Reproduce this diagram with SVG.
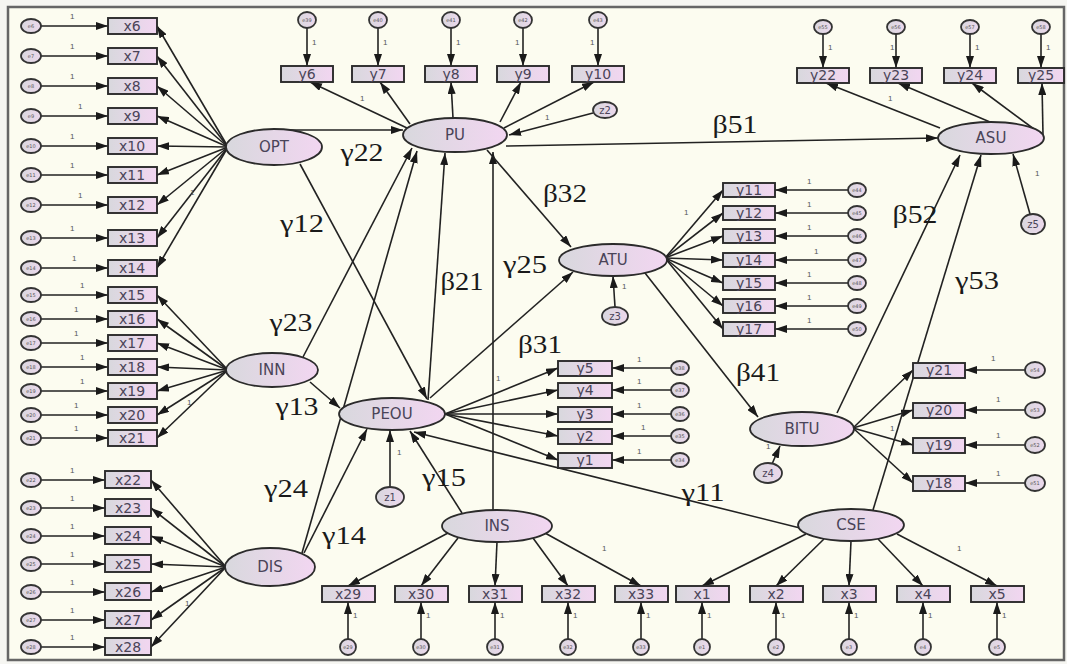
<svg xmlns="http://www.w3.org/2000/svg" width="1067" height="664" viewBox="0 0 1067 664">
<style>
  .lat ellipse { fill: url(#fillG); stroke: #2b2b2b; stroke-width: 1.8; }
  .obs rect { fill: url(#fillG); stroke: #2b2b2b; stroke-width: 1.9; }
  .err ellipse { fill: url(#fillC); stroke: #333; stroke-width: 1.8; }
  .lt { font-family: "DejaVu Sans", sans-serif; font-size: 15px; fill: #4a4458; text-anchor: middle; }
  .bt { font-family: "DejaVu Sans", sans-serif; font-size: 14px; fill: #4a4458; text-anchor: middle; }
  .et { font-family: "DejaVu Sans", sans-serif; font-size: 5px; fill: #555; text-anchor: middle; }
  .zt { font-family: "DejaVu Sans", sans-serif; font-size: 10px; fill: #4a4458; text-anchor: middle; }
  .one { font-family: "Liberation Sans", sans-serif; font-size: 8px; fill: #555; }
  .par { font-family: "Liberation Serif", serif; font-size: 26px; fill: #1a1a1a; text-anchor: middle; }
  #connectors line { stroke: #222; stroke-width: 1.6; marker-end: url(#ah); }
</style>
<defs>
  <linearGradient id="fillG" x1="0" y1="0" x2="1" y2="0">
    <stop offset="0" stop-color="#d8d8dd"/>
    <stop offset="1" stop-color="#f2d6f1"/>
  </linearGradient>
  <linearGradient id="fillC" x1="0" y1="0" x2="1" y2="0">
    <stop offset="0" stop-color="#d9d7de"/>
    <stop offset="1" stop-color="#ecd8ec"/>
  </linearGradient>
  <marker id="ah" viewBox="0 0 12 8" refX="12" refY="4" markerWidth="12" markerHeight="8" markerUnits="userSpaceOnUse" orient="auto">
    <path d="M0,0L12,4L0,8z" fill="#1a1a1a"/>
  </marker>
</defs>

<!-- page and frame -->
<rect x="0" y="0" width="1067" height="664" fill="#f6f6f2"/>
<rect x="8" y="7" width="1056" height="653" fill="#fcfcf0" stroke="#666" stroke-width="2.5"/>

<!-- connectors -->
<g id="connectors">
  <!-- left error terms -->
  <line x1="41" y1="26" x2="108" y2="26"/>
  <line x1="41" y1="56" x2="108" y2="56"/>
  <line x1="41" y1="86" x2="108" y2="86"/>
  <line x1="41" y1="116" x2="108" y2="116"/>
  <line x1="41" y1="146" x2="108" y2="146"/>
  <line x1="41" y1="175" x2="108" y2="175"/>
  <line x1="41" y1="205" x2="108" y2="205"/>
  <line x1="41" y1="238" x2="108" y2="238"/>
  <line x1="41" y1="268" x2="108" y2="268"/>
  <line x1="41" y1="295" x2="108" y2="295"/>
  <line x1="41" y1="319" x2="108" y2="319"/>
  <line x1="41" y1="343" x2="108" y2="343"/>
  <line x1="41" y1="367" x2="108" y2="367"/>
  <line x1="41" y1="391" x2="108" y2="391"/>
  <line x1="41" y1="415" x2="108" y2="415"/>
  <line x1="41" y1="438" x2="108" y2="438"/>
  <line x1="41" y1="480" x2="105" y2="480"/>
  <line x1="41" y1="508" x2="105" y2="508"/>
  <line x1="41" y1="536" x2="105" y2="536"/>
  <line x1="41" y1="564" x2="105" y2="564"/>
  <line x1="41" y1="592" x2="105" y2="592"/>
  <line x1="41" y1="620" x2="105" y2="620"/>
  <line x1="41" y1="647" x2="105" y2="647"/>
  <!-- OPT loadings -->
  <line x1="228" y1="147" x2="157" y2="26"/>
  <line x1="228" y1="147" x2="157" y2="56"/>
  <line x1="228" y1="147" x2="157" y2="86"/>
  <line x1="228" y1="147" x2="157" y2="116"/>
  <line x1="228" y1="147" x2="157" y2="146"/>
  <line x1="228" y1="147" x2="157" y2="175"/>
  <line x1="228" y1="147" x2="157" y2="205"/>
  <line x1="228" y1="147" x2="157" y2="238"/>
  <line x1="228" y1="147" x2="157" y2="268"/>
  <!-- INN loadings -->
  <line x1="228" y1="370" x2="157" y2="295"/>
  <line x1="228" y1="370" x2="157" y2="319"/>
  <line x1="228" y1="370" x2="157" y2="343"/>
  <line x1="228" y1="370" x2="157" y2="367"/>
  <line x1="228" y1="370" x2="157" y2="391"/>
  <line x1="228" y1="370" x2="157" y2="415"/>
  <line x1="228" y1="370" x2="157" y2="438"/>
  <!-- DIS loadings -->
  <line x1="226" y1="567" x2="151" y2="480"/>
  <line x1="226" y1="567" x2="151" y2="508"/>
  <line x1="226" y1="567" x2="151" y2="536"/>
  <line x1="226" y1="567" x2="151" y2="564"/>
  <line x1="226" y1="567" x2="151" y2="592"/>
  <line x1="226" y1="567" x2="151" y2="620"/>
  <line x1="226" y1="567" x2="151" y2="647"/>
  <!-- PU indicators and errors -->
  <line x1="307" y1="28" x2="307" y2="66"/>
  <line x1="378" y1="28" x2="378" y2="66"/>
  <line x1="451" y1="28" x2="451" y2="66"/>
  <line x1="523" y1="28" x2="523" y2="66"/>
  <line x1="598" y1="28" x2="598" y2="66"/>
  <line x1="407" y1="128" x2="310" y2="82"/>
  <line x1="410" y1="124" x2="380" y2="82"/>
  <line x1="453" y1="118" x2="451" y2="82"/>
  <line x1="500" y1="122" x2="521" y2="82"/>
  <line x1="504" y1="128" x2="594" y2="82"/>
  <line x1="593" y1="113" x2="509" y2="135"/>
  <!-- ASU indicators and errors -->
  <line x1="823" y1="34" x2="823" y2="68"/>
  <line x1="896" y1="34" x2="896" y2="68"/>
  <line x1="970" y1="34" x2="970" y2="68"/>
  <line x1="1041" y1="34" x2="1041" y2="68"/>
  <line x1="940" y1="128" x2="826" y2="83"/>
  <line x1="990" y1="122" x2="898" y2="83"/>
  <line x1="1038" y1="132" x2="972" y2="83"/>
  <line x1="1043" y1="135" x2="1042" y2="83"/>
  <line x1="1030" y1="214" x2="1013" y2="154"/>
  <!-- ATU indicators and errors -->
  <line x1="665" y1="258" x2="723" y2="190"/>
  <line x1="665" y1="258" x2="723" y2="213"/>
  <line x1="665" y1="258" x2="723" y2="236"/>
  <line x1="665" y1="258" x2="723" y2="260"/>
  <line x1="665" y1="258" x2="723" y2="283"/>
  <line x1="665" y1="258" x2="723" y2="306"/>
  <line x1="665" y1="258" x2="723" y2="329"/>
  <line x1="848" y1="190" x2="775" y2="190"/>
  <line x1="848" y1="213" x2="775" y2="213"/>
  <line x1="848" y1="236" x2="775" y2="236"/>
  <line x1="848" y1="260" x2="775" y2="260"/>
  <line x1="848" y1="283" x2="775" y2="283"/>
  <line x1="848" y1="306" x2="775" y2="306"/>
  <line x1="848" y1="329" x2="775" y2="329"/>
  <line x1="615" y1="307" x2="613" y2="276"/>
  <!-- PEOU indicators and errors -->
  <line x1="445" y1="414" x2="558" y2="368"/>
  <line x1="445" y1="414" x2="558" y2="390"/>
  <line x1="445" y1="414" x2="558" y2="414"/>
  <line x1="445" y1="414" x2="558" y2="436"/>
  <line x1="445" y1="414" x2="558" y2="460"/>
  <line x1="671" y1="368" x2="612" y2="368"/>
  <line x1="671" y1="390" x2="612" y2="390"/>
  <line x1="671" y1="414" x2="612" y2="414"/>
  <line x1="671" y1="436" x2="612" y2="436"/>
  <line x1="671" y1="460" x2="612" y2="460"/>
  <line x1="390" y1="487" x2="390" y2="430"/>
  <!-- BITU indicators and errors -->
  <line x1="853" y1="428" x2="913" y2="370"/>
  <line x1="853" y1="428" x2="913" y2="410"/>
  <line x1="853" y1="428" x2="913" y2="445"/>
  <line x1="853" y1="428" x2="913" y2="483"/>
  <line x1="1025" y1="370" x2="965" y2="370"/>
  <line x1="1025" y1="410" x2="965" y2="410"/>
  <line x1="1025" y1="445" x2="965" y2="445"/>
  <line x1="1025" y1="483" x2="965" y2="483"/>
  <line x1="772" y1="464" x2="780" y2="446"/>
  <!-- INS and CSE indicators -->
  <line x1="448" y1="533" x2="348" y2="586"/>
  <line x1="458" y1="538" x2="421" y2="586"/>
  <line x1="497" y1="542" x2="495" y2="586"/>
  <line x1="533" y1="538" x2="568" y2="586"/>
  <line x1="545" y1="533" x2="641" y2="586"/>
  <line x1="806" y1="534" x2="702" y2="586"/>
  <line x1="824" y1="539" x2="776" y2="586"/>
  <line x1="851" y1="541" x2="849" y2="586"/>
  <line x1="878" y1="539" x2="923" y2="586"/>
  <line x1="897" y1="534" x2="997" y2="586"/>
  <line x1="348" y1="639" x2="348" y2="602"/>
  <line x1="421" y1="639" x2="421" y2="602"/>
  <line x1="495" y1="639" x2="495" y2="602"/>
  <line x1="568" y1="639" x2="568" y2="602"/>
  <line x1="641" y1="639" x2="641" y2="602"/>
  <line x1="702" y1="639" x2="702" y2="602"/>
  <line x1="776" y1="639" x2="776" y2="602"/>
  <line x1="849" y1="639" x2="849" y2="602"/>
  <line x1="923" y1="639" x2="923" y2="602"/>
  <line x1="997" y1="639" x2="997" y2="602"/>
  <!-- structural paths -->
  <line x1="290" y1="130" x2="403" y2="130"/>
  <line x1="300" y1="164" x2="427" y2="399"/>
  <line x1="428" y1="400" x2="445" y2="153"/>
  <line x1="303" y1="357" x2="412" y2="148"/>
  <line x1="302" y1="553" x2="417" y2="151"/>
  <line x1="310" y1="382" x2="340" y2="408"/>
  <line x1="304" y1="553" x2="367" y2="429"/>
  <line x1="462" y1="513" x2="410" y2="431"/>
  <line x1="800" y1="528" x2="414" y2="432"/>
  <line x1="493" y1="510" x2="493" y2="152"/>
  <line x1="487" y1="150" x2="571" y2="247"/>
  <line x1="430" y1="398" x2="573" y2="272"/>
  <line x1="506" y1="146" x2="938" y2="138"/>
  <line x1="645" y1="273" x2="758" y2="417"/>
  <line x1="837" y1="413" x2="960" y2="155"/>
  <line x1="873" y1="510" x2="981" y2="155"/>
</g>

<!-- path labels -->
<g id="path-labels">
  <text class="par" x="362" y="161" textLength="43" lengthAdjust="spacingAndGlyphs">γ22</text>
  <text class="par" x="302" y="232" textLength="44" lengthAdjust="spacingAndGlyphs">γ12</text>
  <text class="par" x="291" y="331" textLength="43" lengthAdjust="spacingAndGlyphs">γ23</text>
  <text class="par" x="297" y="415" textLength="43" lengthAdjust="spacingAndGlyphs">γ13</text>
  <text class="par" x="286" y="497" textLength="44" lengthAdjust="spacingAndGlyphs">γ24</text>
  <text class="par" x="344" y="544" textLength="44" lengthAdjust="spacingAndGlyphs">γ14</text>
  <text class="par" x="444" y="486" textLength="44" lengthAdjust="spacingAndGlyphs">γ15</text>
  <text class="par" x="462" y="290" textLength="43" lengthAdjust="spacingAndGlyphs">β21</text>
  <text class="par" x="525" y="273" textLength="44" lengthAdjust="spacingAndGlyphs">γ25</text>
  <text class="par" x="565" y="202" textLength="44" lengthAdjust="spacingAndGlyphs">β32</text>
  <text class="par" x="540" y="353" textLength="44" lengthAdjust="spacingAndGlyphs">β31</text>
  <text class="par" x="735" y="133" textLength="45" lengthAdjust="spacingAndGlyphs">β51</text>
  <text class="par" x="758" y="381" textLength="44" lengthAdjust="spacingAndGlyphs">β41</text>
  <text class="par" x="915" y="223" textLength="45" lengthAdjust="spacingAndGlyphs">β52</text>
  <text class="par" x="977" y="289" textLength="44" lengthAdjust="spacingAndGlyphs">γ53</text>
  <text class="par" x="703" y="501" textLength="43" lengthAdjust="spacingAndGlyphs">γ11</text>
</g>

<!-- fixed-parameter labels -->
<g id="fixed-ones" class="one">
  <text x="70" y="19">1</text><text x="70" y="49">1</text><text x="70" y="79">1</text><text x="78" y="109">1</text>
  <text x="70" y="139">1</text><text x="70" y="168">1</text><text x="78" y="198">1</text><text x="70" y="231">1</text>
  <text x="72" y="261">1</text><text x="80" y="288">1</text><text x="74" y="312">1</text><text x="74" y="336">1</text>
  <text x="80" y="360">1</text><text x="80" y="384">1</text><text x="74" y="408">1</text><text x="74" y="431">1</text>
  <text x="70" y="473">1</text><text x="70" y="501">1</text><text x="70" y="529">1</text><text x="70" y="557">1</text>
  <text x="70" y="585">1</text><text x="70" y="613">1</text><text x="70" y="640">1</text>
  <text x="190" y="195">1</text><text x="187" y="405">1</text><text x="185" y="606">1</text>
  <text x="312" y="45">1</text><text x="383" y="45">1</text><text x="456" y="45">1</text><text x="515" y="45">1</text><text x="590" y="45">1</text>
  <text x="360" y="101">1</text><text x="545" y="120">1</text>
  <text x="828" y="50">1</text><text x="890" y="50">1</text><text x="975" y="50">1</text><text x="1046" y="50">1</text>
  <text x="888" y="101">1</text><text x="1035" y="176">1</text>
  <text x="684" y="215">1</text><text x="622" y="289">1</text>
  <text x="807" y="184">1</text><text x="807" y="207">1</text><text x="807" y="230">1</text><text x="814" y="254">1</text>
  <text x="807" y="277">1</text><text x="807" y="300">1</text><text x="807" y="323">1</text>
  <text x="637" y="362">1</text><text x="637" y="384">1</text><text x="637" y="408">1</text><text x="641" y="430">1</text><text x="637" y="454">1</text>
  <text x="496" y="381">1</text><text x="397" y="455">1</text>
  <text x="991" y="361">1</text><text x="996" y="402">1</text><text x="996" y="438">1</text><text x="996" y="476">1</text>
  <text x="890" y="431">1</text><text x="766" y="449">1</text>
  <text x="602" y="551">1</text><text x="957" y="551">1</text>
  <text x="353" y="618">1</text><text x="426" y="618">1</text><text x="500" y="618">1</text><text x="573" y="618">1</text><text x="646" y="618">1</text>
  <text x="707" y="618">1</text><text x="781" y="618">1</text><text x="854" y="618">1</text><text x="928" y="618">1</text><text x="1002" y="618">1</text>
</g>

<!-- latent constructs -->
<g id="OPT" class="lat"><ellipse cx="274" cy="147" rx="48" ry="18"/><text class="lt" x="274" y="152">OPT</text></g>
<g id="PU" class="lat"><ellipse cx="455" cy="135" rx="52" ry="17"/><text class="lt" x="455" y="140">PU</text></g>
<g id="INN" class="lat"><ellipse cx="272" cy="370" rx="46" ry="17"/><text class="lt" x="272" y="375">INN</text></g>
<g id="PEOU" class="lat"><ellipse cx="392" cy="414" rx="53" ry="16"/><text class="lt" x="392" y="419">PEOU</text></g>
<g id="DIS" class="lat"><ellipse cx="270" cy="567" rx="45" ry="19"/><text class="lt" x="270" y="572">DIS</text></g>
<g id="ATU" class="lat"><ellipse cx="613" cy="260" rx="54" ry="16"/><text class="lt" x="613" y="265">ATU</text></g>
<g id="ASU" class="lat"><ellipse cx="991" cy="138" rx="53" ry="16"/><text class="lt" x="991" y="143">ASU</text></g>
<g id="BITU" class="lat"><ellipse cx="802" cy="429" rx="52" ry="17"/><text class="lt" x="802" y="434">BITU</text></g>
<g id="INS" class="lat"><ellipse cx="497" cy="526" rx="55" ry="16"/><text class="lt" x="497" y="531">INS</text></g>
<g id="CSE" class="lat"><ellipse cx="851" cy="525" rx="53" ry="16"/><text class="lt" x="851" y="530">CSE</text></g>

<!-- disturbances -->
<g id="z1" class="err"><ellipse cx="390" cy="497" rx="14" ry="10"/><text class="zt" x="390" y="501">z1</text></g>
<g id="z2" class="err"><ellipse cx="605" cy="110" rx="12" ry="8"/><text class="zt" x="605" y="114">z2</text></g>
<g id="z3" class="err"><ellipse cx="615" cy="316" rx="13" ry="9"/><text class="zt" x="615" y="320">z3</text></g>
<g id="z4" class="err"><ellipse cx="768" cy="473" rx="14" ry="10"/><text class="zt" x="768" y="477">z4</text></g>
<g id="z5" class="err"><ellipse cx="1033" cy="224" rx="12" ry="10"/><text class="zt" x="1033" y="228">z5</text></g>

<!-- OPT / INN / DIS indicators -->
<g id="x6" class="obs"><rect x="108" y="18" width="49" height="16"/><text class="bt" x="132" y="31">x6</text></g>
<g id="x7" class="obs"><rect x="108" y="48" width="49" height="16"/><text class="bt" x="132" y="61">x7</text></g>
<g id="x8" class="obs"><rect x="108" y="78" width="49" height="16"/><text class="bt" x="132" y="91">x8</text></g>
<g id="x9" class="obs"><rect x="108" y="108" width="49" height="16"/><text class="bt" x="132" y="121">x9</text></g>
<g id="x10" class="obs"><rect x="108" y="138" width="49" height="16"/><text class="bt" x="132" y="151">x10</text></g>
<g id="x11" class="obs"><rect x="108" y="167" width="49" height="16"/><text class="bt" x="132" y="180">x11</text></g>
<g id="x12" class="obs"><rect x="108" y="197" width="49" height="16"/><text class="bt" x="132" y="210">x12</text></g>
<g id="x13" class="obs"><rect x="108" y="230" width="49" height="16"/><text class="bt" x="132" y="243">x13</text></g>
<g id="x14" class="obs"><rect x="108" y="260" width="49" height="16"/><text class="bt" x="132" y="273">x14</text></g>
<g id="x15" class="obs"><rect x="108" y="287" width="49" height="16"/><text class="bt" x="132" y="300">x15</text></g>
<g id="x16" class="obs"><rect x="108" y="311" width="49" height="16"/><text class="bt" x="132" y="324">x16</text></g>
<g id="x17" class="obs"><rect x="108" y="335" width="49" height="16"/><text class="bt" x="132" y="348">x17</text></g>
<g id="x18" class="obs"><rect x="108" y="359" width="49" height="16"/><text class="bt" x="132" y="372">x18</text></g>
<g id="x19" class="obs"><rect x="108" y="383" width="49" height="16"/><text class="bt" x="132" y="396">x19</text></g>
<g id="x20" class="obs"><rect x="108" y="407" width="49" height="16"/><text class="bt" x="132" y="420">x20</text></g>
<g id="x21" class="obs"><rect x="108" y="430" width="49" height="16"/><text class="bt" x="132" y="443">x21</text></g>
<g id="x22" class="obs"><rect x="105" y="471" width="46" height="17"/><text class="bt" x="128" y="485">x22</text></g>
<g id="x23" class="obs"><rect x="105" y="499" width="46" height="17"/><text class="bt" x="128" y="513">x23</text></g>
<g id="x24" class="obs"><rect x="105" y="527" width="46" height="17"/><text class="bt" x="128" y="541">x24</text></g>
<g id="x25" class="obs"><rect x="105" y="555" width="46" height="17"/><text class="bt" x="128" y="569">x25</text></g>
<g id="x26" class="obs"><rect x="105" y="583" width="46" height="17"/><text class="bt" x="128" y="597">x26</text></g>
<g id="x27" class="obs"><rect x="105" y="611" width="46" height="17"/><text class="bt" x="128" y="625">x27</text></g>
<g id="x28" class="obs"><rect x="105" y="638" width="46" height="17"/><text class="bt" x="128" y="652">x28</text></g>

<!-- left error terms -->
<g id="e6" class="err"><ellipse cx="31" cy="26" rx="10" ry="7"/><text class="et" x="31" y="28">e6</text></g>
<g id="e7" class="err"><ellipse cx="31" cy="56" rx="10" ry="7"/><text class="et" x="31" y="58">e7</text></g>
<g id="e8" class="err"><ellipse cx="31" cy="86" rx="10" ry="7"/><text class="et" x="31" y="88">e8</text></g>
<g id="e9" class="err"><ellipse cx="31" cy="116" rx="10" ry="7"/><text class="et" x="31" y="118">e9</text></g>
<g id="e10" class="err"><ellipse cx="31" cy="146" rx="10" ry="7"/><text class="et" x="31" y="148">e10</text></g>
<g id="e11" class="err"><ellipse cx="31" cy="175" rx="10" ry="7"/><text class="et" x="31" y="177">e11</text></g>
<g id="e12" class="err"><ellipse cx="31" cy="205" rx="10" ry="7"/><text class="et" x="31" y="207">e12</text></g>
<g id="e13" class="err"><ellipse cx="31" cy="238" rx="10" ry="7"/><text class="et" x="31" y="240">e13</text></g>
<g id="e14" class="err"><ellipse cx="31" cy="268" rx="10" ry="7"/><text class="et" x="31" y="270">e14</text></g>
<g id="e15" class="err"><ellipse cx="31" cy="295" rx="10" ry="7"/><text class="et" x="31" y="297">e15</text></g>
<g id="e16" class="err"><ellipse cx="31" cy="319" rx="10" ry="7"/><text class="et" x="31" y="321">e16</text></g>
<g id="e17" class="err"><ellipse cx="31" cy="343" rx="10" ry="7"/><text class="et" x="31" y="345">e17</text></g>
<g id="e18" class="err"><ellipse cx="31" cy="367" rx="10" ry="7"/><text class="et" x="31" y="369">e18</text></g>
<g id="e19" class="err"><ellipse cx="31" cy="391" rx="10" ry="7"/><text class="et" x="31" y="393">e19</text></g>
<g id="e20" class="err"><ellipse cx="31" cy="415" rx="10" ry="7"/><text class="et" x="31" y="417">e20</text></g>
<g id="e21" class="err"><ellipse cx="31" cy="438" rx="10" ry="7"/><text class="et" x="31" y="440">e21</text></g>
<g id="e22" class="err"><ellipse cx="31" cy="480" rx="10" ry="7"/><text class="et" x="31" y="482">e22</text></g>
<g id="e23" class="err"><ellipse cx="31" cy="508" rx="10" ry="7"/><text class="et" x="31" y="510">e23</text></g>
<g id="e24" class="err"><ellipse cx="31" cy="536" rx="10" ry="7"/><text class="et" x="31" y="538">e24</text></g>
<g id="e25" class="err"><ellipse cx="31" cy="564" rx="10" ry="7"/><text class="et" x="31" y="566">e25</text></g>
<g id="e26" class="err"><ellipse cx="31" cy="592" rx="10" ry="7"/><text class="et" x="31" y="594">e26</text></g>
<g id="e27" class="err"><ellipse cx="31" cy="620" rx="10" ry="7"/><text class="et" x="31" y="622">e27</text></g>
<g id="e28" class="err"><ellipse cx="31" cy="647" rx="10" ry="7"/><text class="et" x="31" y="649">e28</text></g>

<!-- PU indicators -->
<g id="y6" class="obs"><rect x="281" y="66" width="52" height="16"/><text class="bt" x="307" y="79">y6</text></g>
<g id="y7" class="obs"><rect x="352" y="66" width="52" height="16"/><text class="bt" x="378" y="79">y7</text></g>
<g id="y8" class="obs"><rect x="425" y="66" width="52" height="16"/><text class="bt" x="451" y="79">y8</text></g>
<g id="y9" class="obs"><rect x="497" y="66" width="52" height="16"/><text class="bt" x="523" y="79">y9</text></g>
<g id="y10" class="obs"><rect x="572" y="66" width="52" height="16"/><text class="bt" x="598" y="79">y10</text></g>
<g id="e39" class="err"><ellipse cx="307" cy="20" rx="9" ry="8"/><text class="et" x="307" y="22">e39</text></g>
<g id="e40" class="err"><ellipse cx="378" cy="20" rx="9" ry="8"/><text class="et" x="378" y="22">e40</text></g>
<g id="e41" class="err"><ellipse cx="451" cy="20" rx="9" ry="8"/><text class="et" x="451" y="22">e41</text></g>
<g id="e42" class="err"><ellipse cx="523" cy="20" rx="9" ry="8"/><text class="et" x="523" y="22">e42</text></g>
<g id="e43" class="err"><ellipse cx="598" cy="20" rx="9" ry="8"/><text class="et" x="598" y="22">e43</text></g>

<!-- ASU indicators -->
<g id="y22" class="obs"><rect x="797" y="68" width="52" height="15"/><text class="bt" x="823" y="80">y22</text></g>
<g id="y23" class="obs"><rect x="870" y="68" width="52" height="15"/><text class="bt" x="896" y="80">y23</text></g>
<g id="y24" class="obs"><rect x="944" y="68" width="52" height="15"/><text class="bt" x="970" y="80">y24</text></g>
<g id="y25" class="obs"><rect x="1018" y="68" width="46" height="15"/><text class="bt" x="1041" y="80">y25</text></g>
<g id="e55" class="err"><ellipse cx="823" cy="27" rx="9" ry="7"/><text class="et" x="823" y="29">e55</text></g>
<g id="e56" class="err"><ellipse cx="896" cy="27" rx="9" ry="7"/><text class="et" x="896" y="29">e56</text></g>
<g id="e57" class="err"><ellipse cx="970" cy="27" rx="9" ry="7"/><text class="et" x="970" y="29">e57</text></g>
<g id="e58" class="err"><ellipse cx="1041" cy="27" rx="9" ry="7"/><text class="et" x="1041" y="29">e58</text></g>

<!-- ATU indicators -->
<g id="y11" class="obs"><rect x="723" y="183" width="52" height="14"/><text class="bt" x="749" y="195">y11</text></g>
<g id="y12" class="obs"><rect x="723" y="206" width="52" height="14"/><text class="bt" x="749" y="218">y12</text></g>
<g id="y13" class="obs"><rect x="723" y="229" width="52" height="14"/><text class="bt" x="749" y="241">y13</text></g>
<g id="y14" class="obs"><rect x="723" y="253" width="52" height="14"/><text class="bt" x="749" y="265">y14</text></g>
<g id="y15" class="obs"><rect x="723" y="276" width="52" height="14"/><text class="bt" x="749" y="288">y15</text></g>
<g id="y16" class="obs"><rect x="723" y="299" width="52" height="14"/><text class="bt" x="749" y="311">y16</text></g>
<g id="y17" class="obs"><rect x="723" y="322" width="52" height="14"/><text class="bt" x="749" y="334">y17</text></g>
<g id="e44" class="err"><ellipse cx="857" cy="190" rx="9" ry="7"/><text class="et" x="857" y="192">e44</text></g>
<g id="e45" class="err"><ellipse cx="857" cy="213" rx="9" ry="7"/><text class="et" x="857" y="215">e45</text></g>
<g id="e46" class="err"><ellipse cx="857" cy="236" rx="9" ry="7"/><text class="et" x="857" y="238">e46</text></g>
<g id="e47" class="err"><ellipse cx="857" cy="260" rx="9" ry="7"/><text class="et" x="857" y="262">e47</text></g>
<g id="e48" class="err"><ellipse cx="857" cy="283" rx="9" ry="7"/><text class="et" x="857" y="285">e48</text></g>
<g id="e49" class="err"><ellipse cx="857" cy="306" rx="9" ry="7"/><text class="et" x="857" y="308">e49</text></g>
<g id="e50" class="err"><ellipse cx="857" cy="329" rx="9" ry="7"/><text class="et" x="857" y="331">e50</text></g>

<!-- PEOU indicators -->
<g id="y5" class="obs"><rect x="558" y="361" width="54" height="15"/><text class="bt" x="585" y="373">y5</text></g>
<g id="y4" class="obs"><rect x="558" y="383" width="54" height="15"/><text class="bt" x="585" y="395">y4</text></g>
<g id="y3" class="obs"><rect x="558" y="407" width="54" height="15"/><text class="bt" x="585" y="419">y3</text></g>
<g id="y2" class="obs"><rect x="558" y="429" width="54" height="15"/><text class="bt" x="585" y="441">y2</text></g>
<g id="y1" class="obs"><rect x="558" y="453" width="54" height="15"/><text class="bt" x="585" y="465">y1</text></g>
<g id="e38" class="err"><ellipse cx="680" cy="368" rx="9" ry="7"/><text class="et" x="680" y="370">e38</text></g>
<g id="e37" class="err"><ellipse cx="680" cy="390" rx="9" ry="7"/><text class="et" x="680" y="392">e37</text></g>
<g id="e36" class="err"><ellipse cx="680" cy="414" rx="9" ry="7"/><text class="et" x="680" y="416">e36</text></g>
<g id="e35" class="err"><ellipse cx="680" cy="436" rx="9" ry="7"/><text class="et" x="680" y="438">e35</text></g>
<g id="e34" class="err"><ellipse cx="680" cy="460" rx="9" ry="7"/><text class="et" x="680" y="462">e34</text></g>

<!-- BITU indicators -->
<g id="y21" class="obs"><rect x="913" y="363" width="52" height="15"/><text class="bt" x="939" y="375">y21</text></g>
<g id="y20" class="obs"><rect x="913" y="403" width="52" height="15"/><text class="bt" x="939" y="415">y20</text></g>
<g id="y19" class="obs"><rect x="913" y="438" width="52" height="15"/><text class="bt" x="939" y="450">y19</text></g>
<g id="y18" class="obs"><rect x="913" y="476" width="52" height="15"/><text class="bt" x="939" y="488">y18</text></g>
<g id="e54" class="err"><ellipse cx="1035" cy="370" rx="10" ry="8"/><text class="et" x="1035" y="372">e54</text></g>
<g id="e53" class="err"><ellipse cx="1035" cy="410" rx="10" ry="8"/><text class="et" x="1035" y="412">e53</text></g>
<g id="e52" class="err"><ellipse cx="1035" cy="445" rx="10" ry="8"/><text class="et" x="1035" y="447">e52</text></g>
<g id="e51" class="err"><ellipse cx="1035" cy="483" rx="10" ry="8"/><text class="et" x="1035" y="485">e51</text></g>

<!-- INS and CSE indicators -->
<g id="x29" class="obs"><rect x="322" y="586" width="53" height="16"/><text class="bt" x="348" y="599">x29</text></g>
<g id="x30" class="obs"><rect x="395" y="586" width="53" height="16"/><text class="bt" x="421" y="599">x30</text></g>
<g id="x31" class="obs"><rect x="469" y="586" width="53" height="16"/><text class="bt" x="495" y="599">x31</text></g>
<g id="x32" class="obs"><rect x="542" y="586" width="53" height="16"/><text class="bt" x="568" y="599">x32</text></g>
<g id="x33" class="obs"><rect x="615" y="586" width="53" height="16"/><text class="bt" x="641" y="599">x33</text></g>
<g id="x1" class="obs"><rect x="676" y="586" width="53" height="16"/><text class="bt" x="702" y="599">x1</text></g>
<g id="x2" class="obs"><rect x="750" y="586" width="53" height="16"/><text class="bt" x="776" y="599">x2</text></g>
<g id="x3" class="obs"><rect x="823" y="586" width="53" height="16"/><text class="bt" x="849" y="599">x3</text></g>
<g id="x4" class="obs"><rect x="897" y="586" width="53" height="16"/><text class="bt" x="923" y="599">x4</text></g>
<g id="x5" class="obs"><rect x="971" y="586" width="53" height="16"/><text class="bt" x="997" y="599">x5</text></g>
<g id="e29" class="err"><ellipse cx="348" cy="647" rx="8" ry="8"/><text class="et" x="348" y="649">e29</text></g>
<g id="e30" class="err"><ellipse cx="421" cy="647" rx="8" ry="8"/><text class="et" x="421" y="649">e30</text></g>
<g id="e31" class="err"><ellipse cx="495" cy="647" rx="8" ry="8"/><text class="et" x="495" y="649">e31</text></g>
<g id="e32" class="err"><ellipse cx="568" cy="647" rx="8" ry="8"/><text class="et" x="568" y="649">e32</text></g>
<g id="e33" class="err"><ellipse cx="641" cy="647" rx="8" ry="8"/><text class="et" x="641" y="649">e33</text></g>
<g id="e1" class="err"><ellipse cx="702" cy="647" rx="8" ry="8"/><text class="et" x="702" y="649">e1</text></g>
<g id="e2" class="err"><ellipse cx="776" cy="647" rx="8" ry="8"/><text class="et" x="776" y="649">e2</text></g>
<g id="e3" class="err"><ellipse cx="849" cy="647" rx="8" ry="8"/><text class="et" x="849" y="649">e3</text></g>
<g id="e4" class="err"><ellipse cx="923" cy="647" rx="8" ry="8"/><text class="et" x="923" y="649">e4</text></g>
<g id="e5" class="err"><ellipse cx="997" cy="647" rx="8" ry="8"/><text class="et" x="997" y="649">e5</text></g>
</svg>
